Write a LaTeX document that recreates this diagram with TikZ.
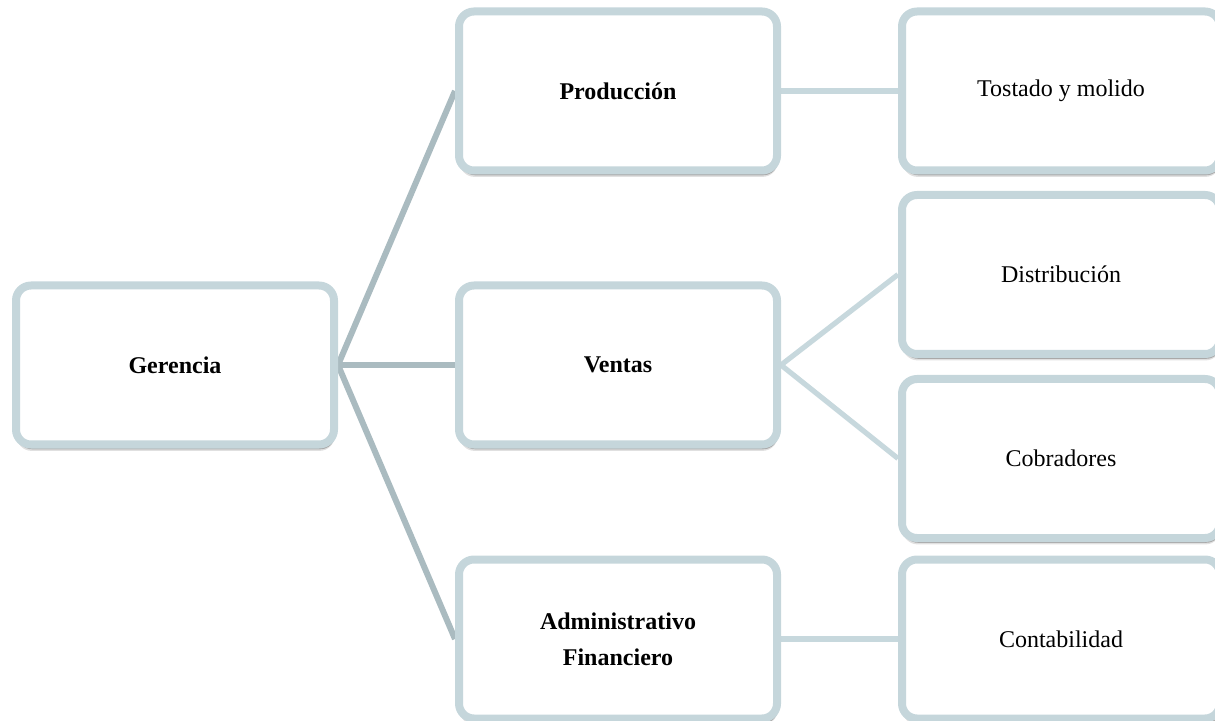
\documentclass[tikz,border=0pt]{standalone}
\usepackage{fontspec}
\setmainfont{Liberation Serif}
\usetikzlibrary{positioning,backgrounds,shadows}
\definecolor{frame}{RGB}{197,214,219}
\definecolor{trunk}{RGB}{170,187,192}
\definecolor{twig}{RGB}{199,216,221}

\begin{document}
\begin{tikzpicture}[
    font=\fontsize{12}{18}\selectfont,node distance=8.5pt,
    unit/.style={draw=frame,line width=4pt,rounded corners=7.5pt,fill=white,
                 minimum width=159pt,minimum height=79.5pt,align=center,
                 drop shadow={shadow xshift=0.3pt,shadow yshift=-3.2pt,fill=black!40,opacity=0.3},
                 drop shadow={shadow xshift=0.6pt,shadow yshift=-2.4pt,fill=black!60,opacity=0.45}},
    head/.style={unit,font=\fontsize{12}{18}\selectfont\bfseries},
    trunkline/.style={draw=trunk,line width=3pt},
    twigline/.style={draw=twig,line width=2.6pt},
  ]
  \useasboundingbox (0,0) rectangle (607.5pt,-360.5pt);

  % first and second level
  \node[head] (gerencia) at (87.5pt,-182.5pt) {Gerencia};
  \node[head,right=58.5pt of gerencia] (ventas) {Ventas};
  \node[head,above=53.5pt of ventas] (produccion) {Producción};
  \node[head,below=53.5pt of ventas] (admin) {Administrativo\\Financiero};

  % third level
  \node[unit,right=58.5pt of produccion] (tostado) {Tostado y molido};
  \node[unit,right=58.5pt of ventas,yshift=45.25pt] (distribucion) {Distribución};
  \node[unit,below=of distribucion] (cobradores) {Cobradores};
  \node[unit,right=58.5pt of admin] (contabilidad) {Contabilidad};

  \begin{scope}[on background layer]
    \draw[trunkline] (gerencia.east) -- (produccion.west);
    \draw[trunkline] (gerencia.east) -- (ventas.west);
    \draw[trunkline] (gerencia.east) -- (admin.west);
    \draw[twigline] (produccion.east) -- (tostado.west);
    \draw[twigline] (ventas.east) -- (distribucion.west);
    \draw[twigline] (ventas.east) -- (cobradores.west);
    \draw[twigline] (admin.east) -- (contabilidad.west);
  \end{scope}
\end{tikzpicture}
\end{document}
